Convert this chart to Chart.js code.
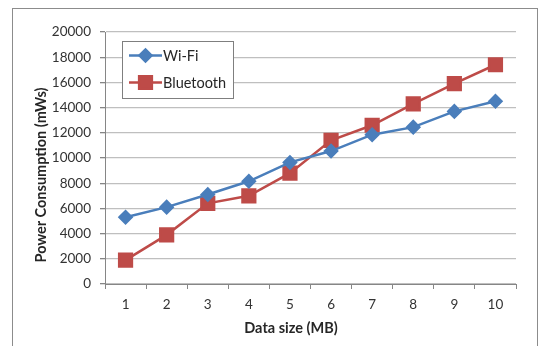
<!DOCTYPE html>
<html>
<head>
<meta charset="utf-8">
<script src="https://cdn.jsdelivr.net/npm/chart.js@4"></script>
<style>
  html, body { margin: 0; padding: 0; background: #fff; }
  #wrap { width: 538px; height: 346px; position: relative; }
</style>
</head>
<body>
<div id="wrap"><canvas id="powerChart"></canvas></div>
<script>
// data
const sizes = ['1', '2', '3', '4', '5', '6', '7', '8', '9', '10'];
const wifi = [5300, 6100, 7100, 8150, 9650, 10550, 11850, 12450, 13700, 14500];
const bluetooth = [1900, 3900, 6400, 7000, 8800, 11400, 12600, 14300, 15900, 17400];
const yTicks = [0, 2000, 4000, 6000, 8000, 10000, 12000, 14000, 16000, 18000, 20000];
const xTitle = 'Data size (MB)';
const yTitle = 'Power Consumption (mWs)';

const FONT = 'Lato, "Open Sans", sans-serif';

// frame round the whole chart
const framePlugin = {
    id: 'frame',
    beforeDraw(chart) {
        const c = chart.ctx;
        c.save();
        c.fillStyle = '#fff';
        c.fillRect(0, 0, chart.width, chart.height);
        c.strokeStyle = '#8c8c8c';
        c.lineWidth = 1;
        c.strokeRect(12.5, 8.5, 525, 360);
        c.restore();
    }
};

// axis titles (in the original they sit a bit off centre)
const axisTitles = {
    id: 'axisTitles',
    afterDraw(chart) {
        const c = chart.ctx;
        c.save();
        c.fillStyle = '#262626';
        c.font = 'bold 14.5px ' + FONT;
        c.textAlign = 'center';
        c.textBaseline = 'middle';
        c.fillText(xTitle, 291, 328);
        c.translate(41, 175);
        c.rotate(-Math.PI / 2);
        c.fillText(yTitle, 0, 0);
        c.restore();
    }
};

// legend box drawn inside the plot area
const boxLegend = {
    id: 'boxLegend',
    afterDatasetsDraw(chart) {
        const c = chart.ctx;
        const x0 = 122.5, y0 = 41.5, w = 111, h = 57;
        c.save();
        c.fillStyle = '#fff';
        c.fillRect(x0, y0, w, h);
        c.strokeStyle = '#7f7f7f';
        c.lineWidth = 1;
        c.strokeRect(x0, y0, w, h);
        chart.data.datasets.forEach((ds, i) => {
            const cy = y0 + 14 + i * 27;
            c.strokeStyle = ds.borderColor;
            c.lineWidth = ds.borderWidth;
            c.beginPath();
            c.moveTo(129, cy);
            c.lineTo(162, cy);
            c.stroke();
            c.fillStyle = ds.backgroundColor;
            c.strokeStyle = ds.borderColor;
            Chart.helpers.drawPoint(c, {
                pointStyle: ds.pointStyle,
                radius: ds.pointRadius,
                borderWidth: 1,
                rotation: 0
            }, 145.5, cy);
            c.fillStyle = '#262626';
            c.font = '14.5px ' + FONT;
            c.textBaseline = 'middle';
            c.textAlign = 'left';
            c.fillText(ds.label, 163, cy + 1);
        });
        c.restore();
    }
};

new Chart(document.getElementById('powerChart'), {
    type: 'line',
    data: {
        labels: sizes,
        datasets: [
            {
                label: 'Wi-Fi',
                data: wifi,
                borderColor: '#4a7ebb',
                backgroundColor: '#4a7ebb',
                borderWidth: 2.5,
                pointStyle: 'rectRot',
                pointRadius: 6,
                pointHoverRadius: 6,
                tension: 0
            },
            {
                label: 'Bluetooth',
                data: bluetooth,
                borderColor: '#be4b48',
                backgroundColor: '#be4b48',
                borderWidth: 2.5,
                pointStyle: 'rect',
                pointRadius: 9,
                pointHoverRadius: 9,
                tension: 0
            }
        ]
    },
    options: {
        responsive: true,
        maintainAspectRatio: false,
        animation: false,
        layout: { padding: { left: 20, right: 22, top: 32, bottom: 4 } },
        plugins: {
            legend: { display: false },
            tooltip: { enabled: false }
        },
        scales: {
            x: {
                offset: true,
                grid: {
                    offset: true,
                    drawOnChartArea: false,
                    drawTicks: true,
                    tickLength: 5,
                    color: '#868686'
                },
                border: { display: true, color: '#868686', width: 1 },
                ticks: {
                    color: '#333',
                    font: { family: FONT, size: 13.5 },
                    padding: 8
                },
                afterFit(scale) { scale.height = 58; }
            },
            y: {
                min: 0,
                max: 20000,
                afterBuildTicks(scale) {
                    scale.ticks = yTicks.map(v => ({ value: v }));
                },
                grid: {
                    color: '#bfbfbf',
                    lineWidth: 1.3,
                    drawTicks: true,
                    tickLength: 5,
                    tickColor: '#868686'
                },
                border: { display: true, color: '#868686', width: 1 },
                ticks: {
                    color: '#333',
                    font: { family: FONT, size: 13.5 },
                    padding: 9,
                    callback: v => String(v)
                },
                afterFit(scale) { scale.width = 85; }
            }
        }
    },
    plugins: [framePlugin, boxLegend, axisTitles]
});
</script>
</body>
</html>
